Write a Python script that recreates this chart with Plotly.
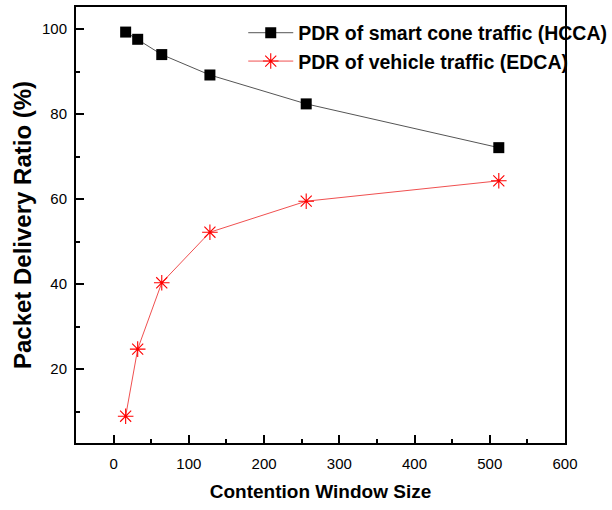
import plotly.graph_objects as go

cw = [16, 32, 64, 128, 256, 512]
pdr_hcca = [99.3, 97.6, 94.0, 89.2, 82.4, 72.1]
pdr_edca = [8.9, 24.7, 40.3, 52.2, 59.5, 64.3]
name_hcca = "PDR of smart cone traffic (HCCA)"
name_edca = "PDR of vehicle traffic (EDCA)"

fig = go.Figure()
fig.add_trace(go.Scatter(
    x=cw, y=pdr_hcca, mode="lines+markers", name=name_hcca,
    line=dict(color="#555555", width=1),
    marker=dict(symbol="square", size=11, color="black"),
))
fig.add_trace(go.Scatter(
    x=cw, y=pdr_edca, mode="lines+markers", name=name_edca,
    line=dict(color="#f05050", width=1),
    marker=dict(symbol="asterisk-open", size=13, color="red", line=dict(color="red", width=1.1)),
))

font = "Liberation Sans, Arial, sans-serif"
fig.update_layout(
    width=612, height=510,
    margin=dict(l=76, r=47, t=7, b=67, autoexpand=False),
    paper_bgcolor="white", plot_bgcolor="white",
    font=dict(family=font, size=15, color="black"),
    showlegend=True,
    legend=dict(x=0.342, y=0.985, xanchor="left", yanchor="top",
                bgcolor="rgba(0,0,0,0)", font=dict(size=19.5, family=font, weight="bold"),
                tracegroupgap=0, itemwidth=45),
    xaxis=dict(range=[-50, 600], tickvals=[0, 100, 200, 300, 400, 500, 600],
               ticks="inside", ticklen=8, tickwidth=1.5, tickcolor="black",
               minor=dict(ticks="inside", ticklen=4, dtick=50, tickcolor="black", tickwidth=1.5),
               showline=True, linecolor="black", linewidth=2, mirror=True,
               showgrid=False, zeroline=False, ticklabelstandoff=6,
               tickfont=dict(size=15),
               title=dict(text="Contention Window Size", font=dict(size=19, weight="bold"), standoff=14)),
    yaxis=dict(range=[2.6, 105.2], tickvals=[20, 40, 60, 80, 100],
               ticks="inside", ticklen=8, tickwidth=1.5, tickcolor="black",
               minor=dict(ticks="inside", ticklen=4, tickvals=[10, 30, 50, 70, 90], tickcolor="black", tickwidth=1.5),
               showline=True, linecolor="black", linewidth=2, mirror=True,
               showgrid=False, zeroline=False, ticklabelstandoff=4,
               tickfont=dict(size=15),
               title=dict(text="Packet Delivery Ratio (%)", font=dict(size=24, weight="bold"), standoff=4)),
)

fig.write_html("out.html")
